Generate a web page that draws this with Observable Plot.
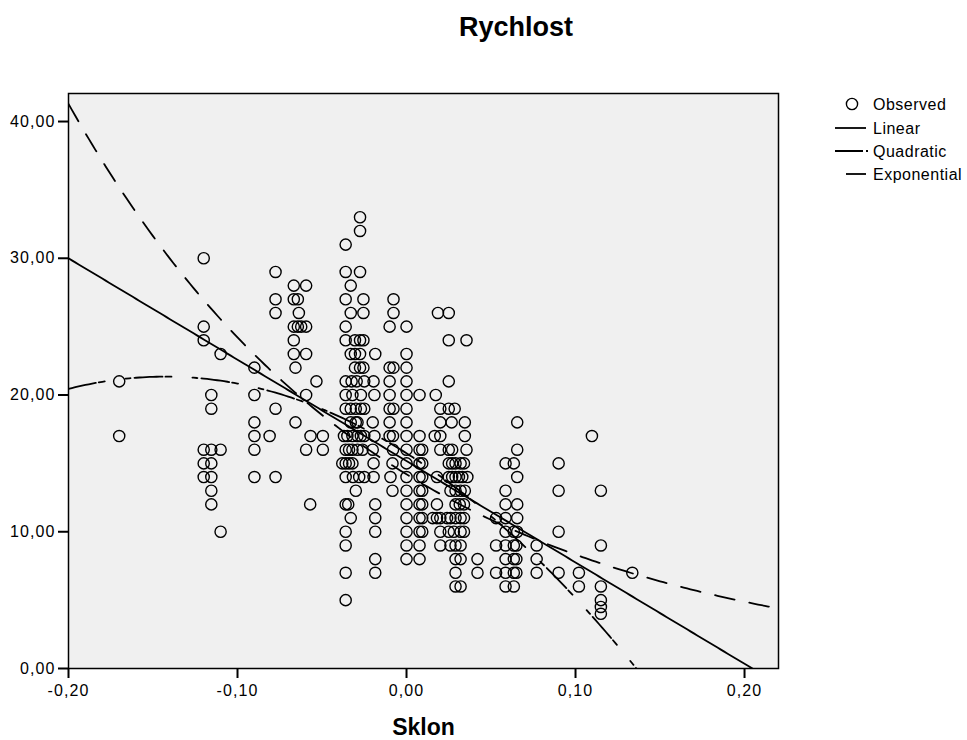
<!DOCTYPE html>
<html><head><meta charset="utf-8">
<script src="https://cdn.jsdelivr.net/npm/d3@7"></script>
<script src="https://cdn.jsdelivr.net/npm/@observablehq/plot@0.6"></script>
<style>
body{margin:0;background:#fff;font-family:"Liberation Sans",Arial,sans-serif;}
#wrap{position:relative;width:967px;height:740px;overflow:hidden;}
#title{position:absolute;left:516px;top:12px;transform:translateX(-50%);font-size:27px;font-weight:bold;line-height:30px;white-space:nowrap;}
#chart{position:absolute;left:0;top:56px;}
#legend{position:absolute;left:820px;top:90px;}
#chart g[aria-label="x-axis tick label"] text, #chart g[aria-label="y-axis tick label"] text{letter-spacing:1.1px;}
#legend text{letter-spacing:0.5px;}
</style></head><body>
<div id="wrap"><div id="title">Rychlost</div><div id="chart"></div><svg id="legend" width="147" height="100"></svg></div>
<script>
// Rychlost (y) levels and the Sklon (x) values observed at each level
const rychlostLevels = [33,32,31,30,29,28,27,26,25,24,23,22,21,20,19,18,17,16,15,14,13,12,11,10,9,8,7,6,5,4.5,4];
const sklonAtLevel = [
  [-0.0275],
  [-0.0275],
  [-0.036],
  [-0.120],
  [-0.0775,-0.036,-0.0275],
  [-0.0667,-0.0594,-0.033],
  [-0.0775,-0.0667,-0.0643,-0.036,-0.0255,-0.0077],
  [-0.0775,-0.0637,-0.033,-0.0255,-0.0077,0.0186,0.025],
  [-0.120,-0.0667,-0.0643,-0.0623,-0.0594,-0.036,-0.010,0.0],
  [-0.120,-0.0667,-0.036,-0.0305,-0.0275,-0.0255,0.025,0.0355],
  [-0.110,-0.0667,-0.0594,-0.033,-0.0305,-0.0275,-0.0185,0.0],
  [-0.090,-0.0657,-0.0305,-0.0275,-0.0255,-0.010,-0.0077,0.0],
  [-0.170,-0.0533,-0.036,-0.0325,-0.0295,-0.025,-0.0195,-0.010,0.0,0.025],
  [-0.1155,-0.090,-0.0594,-0.036,-0.032,-0.027,-0.019,-0.010,0.0,0.0077,0.0173],
  [-0.1155,-0.0775,-0.036,-0.033,-0.030,-0.027,-0.025,-0.010,-0.0077,0.0,0.020,0.025,0.0285],
  [-0.090,-0.0657,-0.033,-0.030,-0.029,-0.020,-0.010,0.0,0.020,0.0267,0.0345,0.0655],
  [-0.170,-0.090,-0.081,-0.0568,-0.0495,-0.037,-0.035,-0.032,-0.029,-0.027,-0.025,-0.019,-0.010,-0.008,0.0,0.0077,0.0167,0.020,0.0345,0.1097],
  [-0.120,-0.1155,-0.110,-0.090,-0.0594,-0.0495,-0.036,-0.034,-0.032,-0.029,-0.026,-0.020,-0.008,0.0,0.0077,0.0093,0.020,0.025,0.027,0.0355,0.0655],
  [-0.120,-0.1155,-0.038,-0.036,-0.034,-0.032,-0.0195,-0.0083,0.0,0.0077,0.0093,0.025,0.027,0.029,0.032,0.034,0.0586,0.0635,0.090],
  [-0.120,-0.1155,-0.090,-0.0775,-0.036,-0.0317,-0.028,-0.025,-0.0195,-0.0095,0.0,0.0077,0.0093,0.018,0.025,0.027,0.029,0.031,0.033,0.036,0.0655],
  [-0.1155,-0.030,-0.0083,0.0,0.0077,0.0093,0.026,0.029,0.032,0.0345,0.0586,0.090,0.115],
  [-0.1155,-0.057,-0.036,-0.0345,-0.0185,0.0,0.0077,0.0093,0.018,0.029,0.0315,0.034,0.0586,0.0655],
  [-0.033,-0.0185,0.0,0.0077,0.0093,0.0155,0.018,0.020,0.024,0.026,0.029,0.032,0.034,0.053,0.0586,0.0655],
  [-0.110,-0.036,-0.0185,0.0,0.0077,0.0093,0.020,0.025,0.028,0.032,0.034,0.0586,0.0635,0.0655,0.090],
  [-0.036,0.0,0.0077,0.020,0.026,0.029,0.032,0.053,0.0586,0.0635,0.065,0.077,0.115],
  [-0.0185,0.0,0.0077,0.029,0.032,0.042,0.0586,0.0635,0.065,0.077],
  [-0.036,-0.0185,0.029,0.042,0.053,0.0586,0.0635,0.065,0.077,0.090,0.102,0.1336],
  [0.029,0.032,0.0586,0.0635,0.102,0.115],
  [-0.036,0.115],
  [0.115],
  [0.115]
];
const xTicks = [-0.2,-0.1,0,0.1,0.2];
const yTicks = [0,10,20,30,40];
// fitted model coefficients
const linearCoef = [15.17, -74.13];          // b0 + b1*x
const quadraticCoef = [15.74, -78.41, -274.3]; // b0 + b1*x + b2*x^2
const exponentialCoef = [14.2, -5.337];      // b0 * exp(b1*x)
const legendLabels = ["Observed","Linear","Quadratic","Exponential"];

const observed = rychlostLevels.flatMap((r, i) => sklonAtLevel[i].map(s => ({sklon: s, rychlost: r})));
const xDomain = [-0.2, 0.2201], yDomain = [0, 42.05];
const xs = d3.range(xDomain[0], xDomain[1] + 1e-9, 0.002);
const linearCurve = xs.map(x => ({x, y: linearCoef[0] + linearCoef[1]*x})).filter(d => d.y >= -0.2);
const quadCurve = xs.map(x => ({x, y: quadraticCoef[0] + quadraticCoef[1]*x + quadraticCoef[2]*x*x})).filter(d => d.y >= -0.2);
const expCurve = xs.map(x => ({x, y: exponentialCoef[0]*Math.exp(exponentialCoef[1]*x)}));

const fmt = d => d.toFixed(2).replace(".", ",");
const quadDash = "28,3,6,21,5,4";
const expDash = "20,15";

const chart = Plot.plot({
  width: 967, height: 684,
  marginLeft: 68, marginRight: 189, marginTop: 37, marginBottom: 72,
  x: {domain: xDomain},
  y: {domain: yDomain},
  style: {fontFamily: "'Liberation Sans', Arial, sans-serif", fontSize: "16px", background: "white", color: "black"},
  marks: [
    Plot.frame({fill: "#f0f0f0"}),
    Plot.dot(observed, {x: "sklon", y: "rychlost", r: 5.6, stroke: "black", strokeWidth: 1.4, fill: "none"}),
    Plot.line(linearCurve, {x: "x", y: "y", stroke: "black", strokeWidth: 1.8, clip: true}),
    Plot.line(quadCurve, {x: "x", y: "y", stroke: "black", strokeWidth: 1.8, strokeDasharray: quadDash, clip: true}),
    Plot.line(expCurve, {x: "x", y: "y", stroke: "black", strokeWidth: 1.8, strokeDasharray: expDash, clip: true}),
    Plot.frame({stroke: "black", strokeWidth: 1.5}),
    Plot.axisX({ticks: xTicks, tickSize: 10, tickPadding: 6, tickFormat: fmt, strokeWidth: 2, label: null, fontSize: 16}),
    Plot.axisY({ticks: yTicks, tickSize: 10, tickPadding: 3, tickFormat: fmt, strokeWidth: 2, label: null, fontSize: 16}),
    Plot.text(["Sklon"], {frameAnchor: "bottom", dy: 66, fontSize: 23, fontWeight: "bold"})
  ]
});
document.getElementById("chart").appendChild(chart);

// legend
const lg = d3.select("#legend");
const rowY = [14, 38, 61, 84];
legendLabels.forEach((lab, i) => {
  const y = rowY[i];
  if (i === 0) lg.append("circle").attr("cx", 32).attr("cy", y).attr("r", 5.6).attr("fill", "none").attr("stroke", "black").attr("stroke-width", 1.4);
  if (i === 1) lg.append("line").attr("x1", 15).attr("x2", 46).attr("y1", y).attr("y2", y).attr("stroke", "black").attr("stroke-width", 1.8);
  if (i === 2) lg.append("line").attr("x1", 15).attr("x2", 48).attr("y1", y).attr("y2", y).attr("stroke", "black").attr("stroke-width", 1.8).attr("stroke-dasharray", quadDash);
  if (i === 3) lg.append("line").attr("x1", 26).attr("x2", 46).attr("y1", y).attr("y2", y).attr("stroke", "black").attr("stroke-width", 1.8);
  lg.append("text").attr("x", 53).attr("y", y).attr("dy", "0.36em").attr("font-size", 16).attr("font-family", "'Liberation Sans', Arial, sans-serif").text(lab);
});
</script>
</body></html>
